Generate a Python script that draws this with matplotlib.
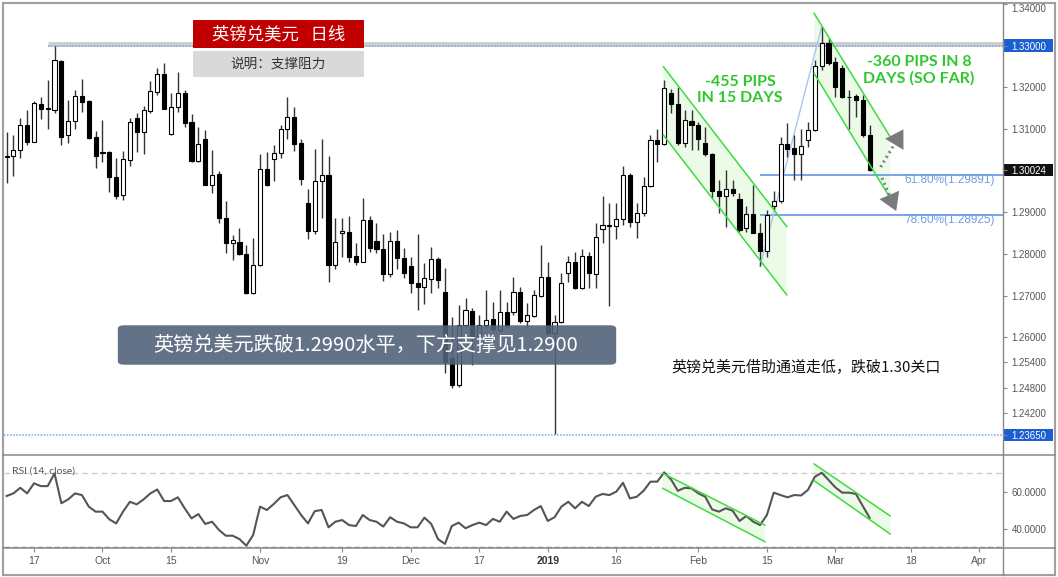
import numpy as np
import pandas as pd
import matplotlib
matplotlib.use('Agg')
import matplotlib.pyplot as plt
from matplotlib.patches import Rectangle, FancyBboxPatch, Polygon
from matplotlib.lines import Line2D
import matplotlib.transforms as mtransforms

plt.rcParams['font.family'] = ['Noto Sans CJK SC', 'DejaVu Sans']

# ---------------- data ----------------
open_ = [1.3032, 1.3034, 1.3049, 1.3109, 1.3069, 1.3160, 1.3148, 1.3145, 1.3264, 1.3085,
         1.3120, 1.3179, 1.3168, 1.3080, 1.3044, 1.3045, 1.2984, 1.2942, 1.3026, 1.3125,
         1.3092, 1.3143, 1.3188, 1.3231, 1.3087, 1.3153, 1.3187, 1.3116, 1.3022, 1.3075,
         1.2966, 1.2992, 1.2886, 1.2826, 1.2830, 1.2800, 1.2706, 1.2774, 1.3003, 1.3027,
         1.3043, 1.3100, 1.3128, 1.3067, 1.2923, 1.2856, 1.2974, 1.2990, 1.2774, 1.2850,
         1.2854, 1.2795, 1.2782, 1.2882, 1.2831, 1.2811, 1.2751, 1.2831, 1.2790, 1.2771,
         1.2731, 1.2720, 1.2739, 1.2787, 1.2710, 1.2550, 1.2486, 1.2630, 1.2664, 1.2604,
         1.2630, 1.2644, 1.2618, 1.2662, 1.2662, 1.2710, 1.2640, 1.2652, 1.2700, 1.2746,
         1.2610, 1.2638, 1.2754, 1.2782, 1.2719, 1.2795, 1.2751, 1.2859, 1.2868, 1.2867,
         1.2883, 1.2990, 1.2878, 1.2899, 1.2963, 1.3073, 1.3065, 1.3185, 1.3159, 1.3067,
         1.3119, 1.3109, 1.3067, 1.3041, 1.2950, 1.2938, 1.2956, 1.2931, 1.2862, 1.2896,
         1.2851, 1.2808, 1.2914, 1.2926, 1.3065, 1.3055, 1.3041, 1.3073, 1.3097, 1.3251,
         1.3305, 1.3261, 1.3245, 1.3177, 1.3179, 1.3169, 1.3085]
high = [1.3093, 1.3085, 1.3125, 1.3145, 1.3168, 1.3177, 1.3217, 1.3299, 1.3265, 1.3169,
        1.3193, 1.3219, 1.3169, 1.3095, 1.3121, 1.3046, 1.3030, 1.3048, 1.3125, 1.3137,
        1.3155, 1.3216, 1.3245, 1.3259, 1.3185, 1.3237, 1.3193, 1.3135, 1.3105, 1.3097,
        1.3049, 1.2998, 1.2926, 1.2846, 1.2862, 1.2822, 1.2838, 1.3040, 1.3045, 1.3061,
        1.3109, 1.3177, 1.3152, 1.3075, 1.2955, 1.3053, 1.3077, 1.3035, 1.2886, 1.2886,
        1.2891, 1.2826, 1.2934, 1.2891, 1.2874, 1.2848, 1.2854, 1.2858, 1.2814, 1.2794,
        1.2848, 1.2778, 1.2818, 1.2794, 1.2766, 1.2648, 1.2678, 1.2694, 1.2670, 1.2654,
        1.2714, 1.2686, 1.2714, 1.2686, 1.2746, 1.2722, 1.2682, 1.2714, 1.2822, 1.2782,
        1.2654, 1.2754, 1.2795, 1.2806, 1.2811, 1.2806, 1.2875, 1.2938, 1.2922, 1.2922,
        1.3010, 1.2994, 1.2922, 1.2984, 1.3085, 1.3101, 1.3217, 1.3195, 1.3201, 1.3145,
        1.3145, 1.3117, 1.3105, 1.3042, 1.2977, 1.3001, 1.2977, 1.2946, 1.2914, 1.2966,
        1.2874, 1.2906, 1.2950, 1.3081, 1.3113, 1.3085, 1.3101, 1.3117, 1.3265, 1.3345,
        1.3317, 1.3273, 1.3253, 1.3193, 1.3184, 1.3181, 1.3109]
low = [1.2970, 1.2986, 1.3030, 1.3061, 1.3068, 1.3123, 1.3101, 1.3137, 1.3061, 1.3067,
       1.3099, 1.3141, 1.3077, 1.3007, 1.3020, 1.2948, 1.2931, 1.2930, 1.3010, 1.3045,
       1.3040, 1.3137, 1.3181, 1.3147, 1.3086, 1.3141, 1.3105, 1.3021, 1.3021, 1.2965,
       1.2946, 1.2875, 1.2803, 1.2786, 1.2798, 1.2705, 1.2705, 1.2772, 1.2962, 1.2974,
       1.3030, 1.3077, 1.3048, 1.2966, 1.2835, 1.2848, 1.2886, 1.2734, 1.2763, 1.2794,
       1.2782, 1.2774, 1.2780, 1.2806, 1.2803, 1.2736, 1.2746, 1.2763, 1.2742, 1.2706,
       1.2667, 1.2680, 1.2706, 1.2718, 1.2514, 1.2478, 1.2482, 1.2626, 1.2534, 1.2598,
       1.2622, 1.2614, 1.2614, 1.2626, 1.2654, 1.2634, 1.2626, 1.2648, 1.2698, 1.2606,
       1.2368, 1.2634, 1.2734, 1.2715, 1.2715, 1.2718, 1.2718, 1.2827, 1.2675, 1.2835,
       1.2870, 1.2866, 1.2838, 1.2891, 1.2961, 1.3021, 1.3061, 1.3137, 1.3061, 1.3057,
       1.3049, 1.3049, 1.3035, 1.2934, 1.2898, 1.2866, 1.2938, 1.2854, 1.2854, 1.2850,
       1.2772, 1.2794, 1.2906, 1.2922, 1.3033, 1.2977, 1.2977, 1.3057, 1.3096, 1.3241,
       1.3253, 1.3177, 1.3173, 1.3101, 1.3129, 1.3081, 1.2998]
close = [1.3035, 1.3049, 1.3109, 1.3069, 1.3161, 1.3148, 1.3149, 1.3265, 1.3080, 1.3120,
         1.3180, 1.3165, 1.3079, 1.3034, 1.3043, 1.2984, 1.2940, 1.3027, 1.3116, 1.3092,
         1.3145, 1.3191, 1.3232, 1.3148, 1.3153, 1.3187, 1.3113, 1.3022, 1.3065, 1.2966,
         1.2990, 1.2886, 1.2826, 1.2834, 1.2800, 1.2706, 1.2774, 1.3003, 1.2966, 1.3043,
         1.3101, 1.3128, 1.3065, 1.2979, 1.2856, 1.2976, 1.2990, 1.2774, 1.2830, 1.2855,
         1.2794, 1.2782, 1.2882, 1.2814, 1.2811, 1.2752, 1.2831, 1.2790, 1.2755, 1.2730,
         1.2720, 1.2742, 1.2787, 1.2738, 1.2541, 1.2486, 1.2630, 1.2666, 1.2604, 1.2630,
         1.2642, 1.2620, 1.2662, 1.2630, 1.2710, 1.2640, 1.2654, 1.2702, 1.2746, 1.2610,
         1.2638, 1.2730, 1.2782, 1.2719, 1.2795, 1.2754, 1.2842, 1.2870, 1.2869, 1.2883,
         1.2990, 1.2878, 1.2899, 1.2963, 1.3073, 1.3065, 1.3197, 1.3159, 1.3067, 1.3121,
         1.3109, 1.3077, 1.3040, 1.2950, 1.2938, 1.2956, 1.2946, 1.2858, 1.2896, 1.2851,
         1.2808, 1.2894, 1.2926, 1.3065, 1.3053, 1.3041, 1.3059, 1.3097, 1.3251, 1.3305,
         1.3257, 1.3201, 1.3177, 1.3176, 1.3169, 1.3085, 1.30024]
rsi = [57.7, 59.1, 62.1, 59.1, 64.5, 63.0, 63.0, 69.8, 53.8, 55.9,
       59.1, 58.2, 52.0, 49.3, 49.3, 45.2, 43.0, 49.3, 54.6, 53.2,
       55.9, 59.1, 61.2, 55.0, 55.0, 57.0, 51.1, 45.7, 48.0, 42.7,
       43.9, 39.5, 36.4, 36.4, 34.6, 31.0, 36.8, 52.0, 50.2, 53.4,
       57.0, 58.2, 52.9, 47.5, 43.0, 49.6, 50.2, 40.9, 43.9, 44.8,
       42.1, 41.6, 47.5, 44.8, 43.9, 41.3, 46.3, 43.9, 43.0, 40.9,
       40.9, 46.1, 42.7, 34.5, 32.0, 41.6, 43.4, 40.4, 42.1, 43.4,
       42.1, 45.4, 43.9, 49.3, 45.4, 47.0, 47.5, 50.2, 52.3, 44.3,
       46.3, 52.0, 54.6, 51.1, 54.6, 52.3, 57.3, 58.8, 58.2, 60.0,
       64.8, 56.4, 57.3, 60.5, 65.4, 65.4, 70.4, 66.6, 60.5, 62.1,
       61.8, 59.1, 57.3, 50.5, 49.3, 51.1, 49.8, 44.3, 47.0, 43.9,
       42.1, 47.5, 59.5, 58.2, 57.0, 58.2, 58.0, 61.0, 68.0, 70.2,
       66.3, 62.3, 59.5, 59.5, 58.8, 52.3, 46.0]

price_ticks = [1.34, 1.33, 1.32, 1.31, 1.30024, 1.29, 1.28, 1.27, 1.26,
               1.254, 1.248, 1.242, 1.2365]
boxed_ticks = {1.33: '#1b5fd2', 1.30024: '#111111', 1.2365: '#1b5fd2'}
rsi_ticks = [60, 40]
tick_dates = ['2018-09-17', '2018-10-01', '2018-10-15', '2018-11-01', '2018-11-19',
              '2018-12-03', '2018-12-17', '2019-01-02', '2019-01-16', '2019-02-01',
              '2019-02-15', '2019-03-01', '2019-03-18', '2019-04-01']
tick_labels = ['17', 'Oct', '15', 'Nov', '19', 'Dec', '17', '2019', '16', 'Feb',
               '15', 'Mar', '18', 'Apr']
fib_levels = [1.29891, 1.28925]
fib_labels = ['61.80%(1.29891)', '78.60%(1.28925)']

# trading calendar (forex daily bars, no Christmas / New Year bars)
cal = pd.bdate_range('2018-09-11', '2019-04-05')
cal = cal[~cal.isin(pd.to_datetime(['2018-12-25', '2019-01-01']))]
tick_pos = [int(cal.get_loc(pd.Timestamp(d))) for d in tick_dates]

# ---------------- figure ----------------
W, H = 1058, 577
fig = plt.figure(figsize=(W / 100, H / 100), dpi=100)
fig.patch.set_facecolor('white')


def fx(x):
    return x / W


def fy(y):
    return 1 - y / H


ax = fig.add_axes([fx(3.5), fy(455), fx(1003) - fx(3.5), fy(3) - fy(455)])
rx = fig.add_axes([fx(3.5), fy(548), fx(1003) - fx(3.5), fy(455) - fy(548)], sharex=ax)
for a in (ax, rx):
    for s in a.spines.values():
        s.set_visible(False)

n = len(close)
idx = np.arange(n)
o = np.array(open_)
c = np.array(close)
h = np.array(high)
l = np.array(low)
up = c >= o
bb = np.minimum(o, c)
bh = np.maximum(np.abs(c - o), 0.00012)

XR = 145.47
ax.set_xlim(-0.45, XR)
ax.set_ylim(1.23182, 1.34019)

# channels (price)
green = '#3ddc3d'
fillg = '#ebfbe8'
for (x0, x1, u0, u1, d0, d1) in [(95.9, 113.9, 1.3249, 1.2866, 1.3085, 1.2702),
                                  (117.9, 129.0, 1.3377, 1.3081, 1.3233, 1.2934)]:
    ax.add_patch(Polygon([(x0, u0), (x1, u1), (x1, d1), (x0, d0)], closed=True,
                         facecolor=fillg, edgecolor='none', zorder=1))
    ax.plot([x0, x1], [u0, u1], color=green, lw=1.1, zorder=4)
    ax.plot([x0, x1], [d0, d1], color=green, lw=1.1, zorder=4)

# resistance / support lines
ax.hlines(1.33031, 6, XR, color='#cfcfcf', lw=3.6, zorder=1.5)
ax.hlines(1.33, 6, XR, color='#7aa5e8', lw=1.1, linestyles=(0, (1, 1)), zorder=1.6)
ax.hlines(1.2365, -0.45, XR, color='#7aa5e8', lw=1.1, linestyles=(0, (1, 1)), zorder=1.6)

# fibonacci
fibc = '#6f9de6'
ax.hlines(fib_levels, 110, XR, color=fibc, lw=1.3, zorder=1.6)
ax.plot([110, 119], [1.2770, 1.3345], color='#a9c5f0', lw=1, zorder=1.7)

# candles
ax.vlines(idx, l, h, color='#333333', lw=1, zorder=2)
ax.bar(idx[up], bh[up], bottom=bb[up], width=0.6, facecolor='white',
       edgecolor='black', linewidth=0.8, zorder=3)
ax.bar(idx[~up], bh[~up], bottom=bb[~up], width=0.6, facecolor='black',
       edgecolor='black', linewidth=0.8, zorder=3)

# dotted projection arrows
arrc = '#7a7a7a'
for (xs, ys, xe, ye) in [(127.6, 1.30087, 130.6, 1.30900), (127.8, 1.29823, 129.7, 1.29100)]:
    ax.plot([xs, xe], [ys, ye], color=arrc, lw=2.2, ls=(0, (0.6, 1.2)), zorder=5)
    dx, dy = xe - xs, ye - ys
    ax.annotate('', xy=(xe + dx * 0.18, ye + dy * 0.18), xytext=(xe - dx * 0.05, ye - dy * 0.05),
                arrowprops=dict(arrowstyle='-|>,head_length=0.9,head_width=0.55',
                                color=arrc, lw=0, mutation_scale=14), zorder=5)

# right price axis
ax.yaxis.tick_right()
ax.set_yticks(price_ticks)
ax.set_yticklabels(['%.5f' % t for t in price_ticks])
ax.tick_params(axis='y', direction='out', length=3, width=0.8, color='#888888',
               labelsize=7, labelcolor='#555555', pad=3, labelfontfamily='Liberation Sans')
ax.tick_params(axis='x', bottom=False, labelbottom=False)
blend = mtransforms.blended_transform_factory(ax.transAxes, ax.transData)
for t, lab in zip(price_ticks, ax.get_yticklabels()):
    if t in boxed_ticks:
        lab.set_color('white')
        ax.add_patch(Rectangle((1.0005, t - 0.00144), 0.0495, 0.00288, transform=blend,
                               facecolor=boxed_ticks[t], edgecolor='none', clip_on=False, zorder=1))
    if t == 1.34:
        lab.set_verticalalignment('top')

# RSI panel
rx.set_ylim(29.8, 79.7)
for (x0, x1, u0, u1, d0, d1) in [(95.8, 110.7, 69.9, 42.1, 61.8, 33.2),
                                  (117.9, 129.0, 74.9, 47.0, 65.9, 37.3)]:
    rx.add_patch(Polygon([(x0, u0), (x1, u1), (x1, d1), (x0, d0)], closed=True,
                         facecolor=fillg, edgecolor='none', zorder=1))
    rx.plot([x0, x1], [u0, u1], color=green, lw=1.1, zorder=4)
    rx.plot([x0, x1], [d0, d1], color=green, lw=1.1, zorder=4)
rx.axhline(70, color='#cccccc', lw=1, ls=(0, (4, 3)), zorder=1)
rx.axhline(30.1, color='#888888', lw=1, ls=(0, (4, 2)), zorder=1)
rx.plot(idx, rsi, color='#555555', lw=1.5, zorder=3)
rx.yaxis.tick_right()
rx.set_yticks(rsi_ticks)
rx.set_yticklabels(['%.4f' % t for t in rsi_ticks])
rx.tick_params(axis='y', direction='out', length=3, width=0.8, color='#888888',
               labelsize=7, labelcolor='#555555', pad=3, labelfontfamily='Liberation Sans')
rx.set_xticks(tick_pos)
rx.set_xticklabels(tick_labels)
rx.tick_params(axis='x', direction='out', length=3, width=0.8, color='#888888',
               labelsize=7.5, labelcolor='#555555', pad=3, labelfontfamily='Liberation Sans')
for lab in rx.get_xticklabels():
    if lab.get_text() == '2019':
        lab.set_fontweight('bold')
        lab.set_color('#333333')

# frame lines
fig.add_artist(Rectangle((fx(3), fy(575)), fx(1055) - fx(3), fy(3) - fy(575),
                         transform=fig.transFigure, fill=False, edgecolor='#a0a0a0', lw=1.5))
fig.add_artist(Line2D([fx(1003), fx(1003)], [fy(3), fy(575)], transform=fig.transFigure,
                      color='#888888', lw=1))
for yy in (455, 548):
    fig.add_artist(Line2D([fx(3), fx(1055)], [fy(yy), fy(yy)], transform=fig.transFigure,
                          color='#888888', lw=1.1))

# title boxes
fig.add_artist(Rectangle((fx(193), fy(47.5)), fx(364) - fx(193), fy(20) - fy(47.5),
                         transform=fig.transFigure, facecolor='#c00000', edgecolor='none'))
fig.text(fx(279), fy(34), '英镑兑美元   日线', color='white', fontsize=12.5,
         ha='center', va='center')
fig.add_artist(Rectangle((fx(193), fy(77)), fx(364) - fx(193), fy(50.5) - fy(77),
                         transform=fig.transFigure, facecolor='#d9d9d9', edgecolor='none'))
fig.text(fx(278), fy(63.5), '说明：支撑阻力', color='#333333', fontsize=9.8,
         ha='center', va='center')

# slate box
fig.add_artist(FancyBboxPatch((fx(121), fy(363)), fx(613) - fx(121), fy(327) - fy(363),
                              boxstyle='round,pad=0.003,rounding_size=0.006',
                              transform=fig.transFigure, facecolor='#53637a',
                              edgecolor='none', alpha=0.9))
fig.text(fx(366), fy(345), '英镑兑美元跌破1.2990水平，下方支撑见1.2900', color='white',
         fontsize=14.5, ha='center', va='center')

fig.text(fx(671), fy(367.5), '英镑兑美元借助通道走低，跌破1.30关口', color='#111111',
         fontsize=10.8, ha='left', va='center')

# green annotations
fig.text(fx(740), fy(90), '-455 PIPS\nIN 15 DAYS', color='#2ec82e', fontsize=11.5,
         fontweight='bold', family=['Lato', 'DejaVu Sans'], ha='center', va='center',
         linespacing=1.15)
fig.text(fx(919), fy(70.5), '-360 PIPS IN 8\nDAYS (SO FAR)', color='#2ec82e', fontsize=11.5,
         fontweight='bold', family=['Lato', 'DejaVu Sans'], ha='center', va='center',
         linespacing=1.15)

# fib labels
fig.text(fx(995), fy(180.5), fib_labels[0], color=fibc, fontsize=8.5,
         family=['Liberation Sans'], ha='right', va='center')
fig.text(fx(995), fy(220), fib_labels[1], color=fibc, fontsize=8.5,
         family=['Liberation Sans'], ha='right', va='center')

fig.text(fx(12), fy(471), 'RSI (14, close)', color='#555555', fontsize=7.5,
         family=['Lato', 'DejaVu Sans'], ha='left', va='center')

fig.savefig('out.png', dpi=100)
